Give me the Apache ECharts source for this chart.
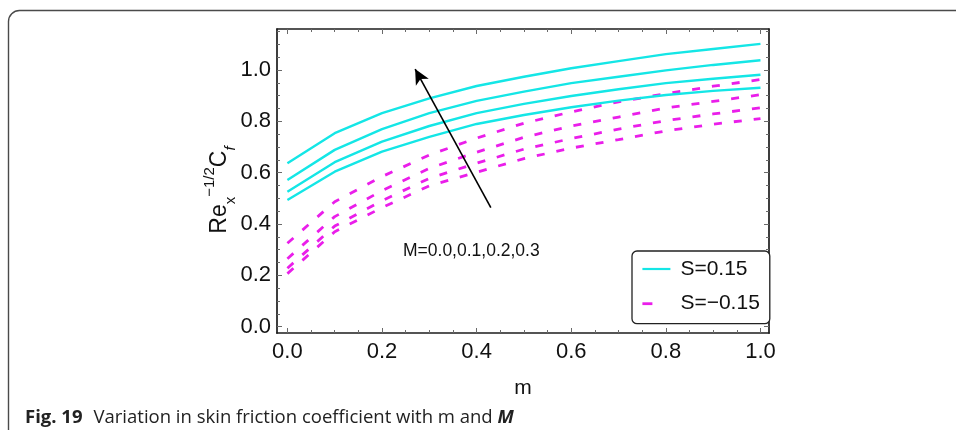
<!DOCTYPE html>
<html><head><meta charset="utf-8">
<script src="https://cdn.jsdelivr.net/npm/echarts@6/dist/echarts.min.js"></script>
<style>html,body{margin:0;padding:0;background:#fff}#c{width:956px;height:430px}</style>
</head><body><div id="c"></div>
<script>
// ---- data ----
const mValues = [0.0, 0.1, 0.2, 0.3, 0.4, 0.5, 0.6, 0.7, 0.8, 0.9, 1.0];
// S = 0.15 (solid cyan), M = 0.0 .. 0.3 (bottom to top)
const sPos_M00 = [0.494, 0.604, 0.682, 0.740, 0.790, 0.825, 0.855, 0.881, 0.903, 0.919, 0.931];
const sPos_M01 = [0.526, 0.641, 0.721, 0.782, 0.832, 0.868, 0.899, 0.925, 0.949, 0.966, 0.982];
const sPos_M02 = [0.572, 0.689, 0.770, 0.832, 0.880, 0.916, 0.949, 0.974, 0.999, 1.020, 1.038];
const sPos_M03 = [0.637, 0.754, 0.832, 0.890, 0.938, 0.974, 1.007, 1.035, 1.062, 1.082, 1.102];
// S = -0.15 (dashed magenta)
const sNeg_M00 = [0.207, 0.370, 0.464, 0.549, 0.602, 0.655, 0.696, 0.729, 0.763, 0.789, 0.811];
const sNeg_M01 = [0.228, 0.392, 0.491, 0.578, 0.637, 0.692, 0.733, 0.770, 0.803, 0.829, 0.853];
const sNeg_M02 = [0.265, 0.429, 0.530, 0.617, 0.680, 0.738, 0.782, 0.817, 0.852, 0.878, 0.904];
const sNeg_M03 = [0.325, 0.487, 0.585, 0.669, 0.735, 0.793, 0.837, 0.876, 0.908, 0.937, 0.963];
const seriesNames = ['S=0.15', 'S=\u22120.15'];
// ticks
const xMajorTicks = [0, 0.2, 0.4, 0.6, 0.8, 1.0];
const xMinorTicks = [0.05, 0.1, 0.15, 0.25, 0.3, 0.35, 0.45, 0.5, 0.55, 0.65, 0.7, 0.75, 0.85, 0.9, 0.95];
const yMajorTicks = [0, 0.2, 0.4, 0.6, 0.8, 1.0];
const yMinorTicks = [0.05, 0.1, 0.15, 0.25, 0.3, 0.35, 0.45, 0.5, 0.55, 0.65, 0.7, 0.75, 0.85, 0.9, 0.95, 1.05, 1.1, 1.15];
// annotation arrow (data units)
const arrowFrom = [0.430, 0.464];
const arrowTo = [0.270, 1.004];
const annotationText = 'M=0.0,0.1,0.2,0.3';

// ---- chart ----
const FONT = 'Liberation Sans, Arial, Helvetica, sans-serif';
const xMin = -0.022, xMax = 1.018, yMin = -0.0245, yMax = 1.16;
const CYAN = '#14e6e6', MAGENTA = '#ea1eea';
const AXIS_COLOR = '#1c1c1c', TICK_COLOR = '#6a6a6a';

function xAxisDef(position, ticks, len, withLabels, withLine, extra) {
  return Object.assign({
    type: 'value', position: position, min: xMin, max: xMax,
    splitLine: { show: false },
    axisLine: { show: withLine, onZero: false, lineStyle: { color: AXIS_COLOR, width: 1.7 } },
    axisTick: { show: true, inside: true, length: len, customValues: ticks, lineStyle: { color: TICK_COLOR, width: 1 } },
    axisLabel: withLabels ? {
      show: true, customValues: ticks, margin: 8, fontSize: 22, fontFamily: FONT, color: '#111',
      formatter: v => Number(v).toFixed(1)
    } : { show: false }
  }, extra || {});
}
function yAxisDef(position, ticks, len, withLabels, withLine, extra) {
  return Object.assign({
    type: 'value', position: position, min: yMin, max: yMax,
    splitLine: { show: false },
    axisLine: { show: withLine, onZero: false, lineStyle: { color: AXIS_COLOR, width: 1.7 } },
    axisTick: { show: true, inside: true, length: len, customValues: ticks, lineStyle: { color: TICK_COLOR, width: 1 } },
    axisLabel: withLabels ? {
      show: true, customValues: ticks, margin: 6, fontSize: 22, fontFamily: FONT, color: '#111',
      formatter: v => Number(v).toFixed(1)
    } : { show: false }
  }, extra || {});
}

function mkSeries(name, vals, color, dashed) {
  return {
    type: 'line', name: name, xAxisIndex: 0, yAxisIndex: 0,
    data: mValues.map((m, i) => [m, vals[i]]),
    symbol: 'none', smooth: false, silent: true,
    lineStyle: dashed ? { color: color, width: 2.8, type: [8, 12] } : { color: color, width: 2.4 },
    itemStyle: { color: color }
  };
}

const hiddenIcon = { color: 'rgba(0,0,0,0)', borderWidth: 0, opacity: 0 };

const chart = echarts.init(document.getElementById('c'), null, { renderer: 'canvas' });
chart.setOption({
  animation: false,
  backgroundColor: '#fff',
  grid: { left: 277, top: 29, right: 187, bottom: 97, containLabel: false },
  xAxis: [
    xAxisDef('bottom', xMajorTicks, 5, true, true, {
      name: 'm', nameLocation: 'middle', nameGap: 45, nameMoveOverlap: false,
      nameTextStyle: { fontSize: 21, fontFamily: FONT, color: '#111' }
    }),
    xAxisDef('bottom', xMinorTicks, 3, false, false),
    xAxisDef('top', xMajorTicks, 5, false, true),
    xAxisDef('top', xMinorTicks, 3, false, false)
  ],
  yAxis: [
    yAxisDef('left', yMajorTicks, 5, true, true, {
      name: '{m|Re}{sub|x}{sup|\u22121/2}{m|C}{subi|f}{sp| }',
      nameLocation: 'middle', nameGap: 39, nameRotate: 90, nameMoveOverlap: false,
      nameTextStyle: {
        fontFamily: FONT, color: '#111', fontSize: 23,
        rich: {
          m: { fontSize: 23, fontFamily: FONT, color: '#111', lineHeight: 36, verticalAlign: 'middle' },
          sub: { fontSize: 15, fontFamily: FONT, color: '#111', lineHeight: 32, verticalAlign: 'bottom' },
          subi: { fontSize: 15, fontFamily: FONT, color: '#111', fontStyle: 'italic', lineHeight: 32, verticalAlign: 'bottom' },
          sup: { fontSize: 15, fontFamily: FONT, color: '#111', lineHeight: 15, verticalAlign: 'top' },
          sp: { width: 18, fontSize: 15, lineHeight: 15 }
        }
      }
    }),
    yAxisDef('left', yMinorTicks, 3, false, false),
    yAxisDef('right', yMajorTicks, 5, false, true),
    yAxisDef('right', yMinorTicks, 3, false, false)
  ],
  legend: {
    orient: 'vertical', left: 632, top: 251,
    selectedMode: false,
    itemWidth: 28, itemHeight: 14, itemGap: 12.7,
    padding: [7, 10, 9, 9],
    borderColor: '#222', borderWidth: 1.3, borderRadius: 5, backgroundColor: '#fff',
    textStyle: { fontSize: 21, fontFamily: FONT, color: '#111', lineHeight: 22, padding: [0, 0, 0, 5] },
    itemStyle: hiddenIcon,
    data: [
      { name: seriesNames[0], itemStyle: hiddenIcon, lineStyle: { color: CYAN, width: 2.2, type: 'solid' } },
      { name: seriesNames[1], itemStyle: hiddenIcon, lineStyle: { color: MAGENTA, width: 2.8, type: [10, 34] } }
    ]
  },
  series: [
    mkSeries(seriesNames[1], sNeg_M00, MAGENTA, true),
    mkSeries(seriesNames[1], sNeg_M01, MAGENTA, true),
    mkSeries(seriesNames[1], sNeg_M02, MAGENTA, true),
    mkSeries(seriesNames[1], sNeg_M03, MAGENTA, true),
    mkSeries(seriesNames[0], sPos_M00, CYAN, false),
    mkSeries(seriesNames[0], sPos_M01, CYAN, false),
    mkSeries(seriesNames[0], sPos_M02, CYAN, false),
    mkSeries(seriesNames[0], sPos_M03, CYAN, false),
    {
      type: 'line', name: 'arrow', data: [], silent: true, symbol: 'none',
      markLine: {
        silent: true, animation: false,
        symbol: ['none', 'arrow'], symbolSize: [11, 15],
        label: { show: false },
        lineStyle: { color: '#000', width: 1.6, type: 'solid' },
        emphasis: { disabled: true },
        data: [[{ coord: arrowFrom }, { coord: arrowTo }]]
      }
    }
  ],
  graphic: [
    {
      type: 'rect', silent: true, z: -10,
      shape: { x: 8.5, y: 10.5, width: 1200, height: 900, r: 11 },
      style: { fill: 'none', stroke: '#4a4a4a', lineWidth: 1.4 }
    },
    {
      type: 'text', silent: true, x: 403, y: 251,
      style: { text: annotationText, font: '17.5px ' + FONT, fill: '#111', verticalAlign: 'middle' }
    },
    {
      type: 'text', silent: true, x: 25, y: 418,
      style: {
        text: '{b|Fig. 19}{n|Variation in skin friction coefficient with m and }{bi|M}',
        verticalAlign: 'middle',
        rich: {
          b: { fontFamily: 'Open Sans, sans-serif', fontSize: 18.5, fontWeight: 'bold', fill: '#222', padding: [0, 11, 0, 0] },
          n: { fontFamily: 'Open Sans, sans-serif', fontSize: 18.5, fill: '#222' },
          bi: { fontFamily: 'Open Sans, sans-serif', fontSize: 18.5, fontWeight: 'bold', fontStyle: 'italic', fill: '#222' }
        }
      }
    }
  ]
});
</script>
</body></html>
